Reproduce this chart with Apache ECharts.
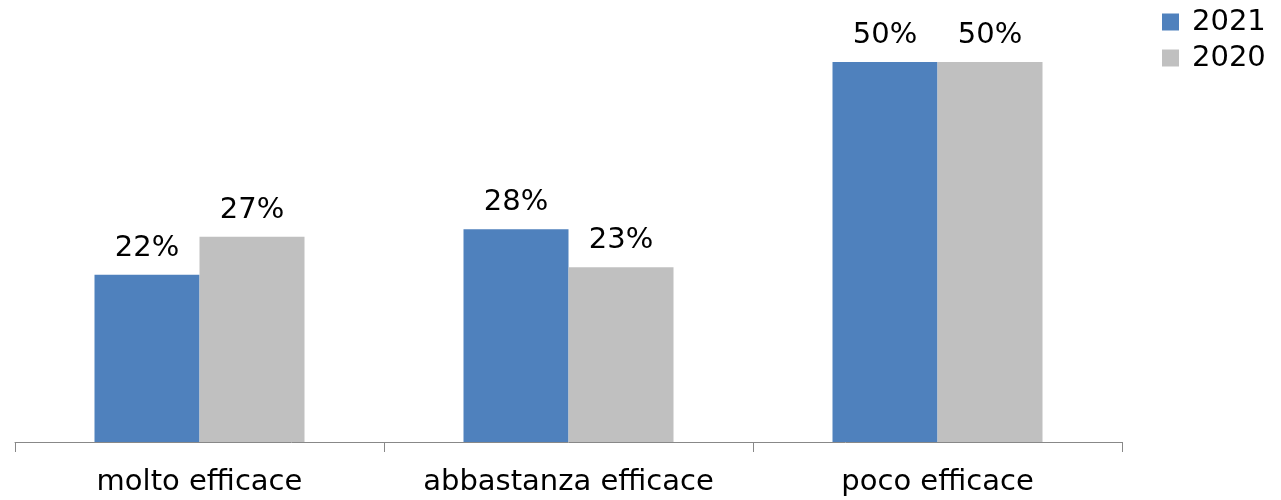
<!DOCTYPE html>
<html><head><meta charset="utf-8">
<script src="https://cdn.jsdelivr.net/npm/echarts@6/dist/echarts.min.js"></script>
<style>html,body{margin:0;padding:0;background:#fff}#c{width:1281px;height:500px}</style>
</head><body><div id="c"></div>
<script>
const categories = ['molto efficace', 'abbastanza efficace', 'poco efficace'];
const values2021 = [22, 28, 50];
const values2020 = [27, 23, 50];
const seriesNames = ['2021', '2020'];

const chart = echarts.init(document.getElementById('c'));
const font = 'DejaVu Sans, Verdana, sans-serif';
const label = {show: true, position: 'top', distance: 12, formatter: '{c}%', color: '#000', fontSize: 29, fontFamily: font};
chart.setOption({
  animation: false,
  textStyle: {fontFamily: font},
  grid: {left: 15, right: 159, top: 62, bottom: 58, containLabel: false},
  legend: {
    orient: 'vertical', left: 1162, top: 7, padding: 0, itemWidth: 17, itemHeight: 17, itemGap: 6,
    icon: 'rect',
    textStyle: {fontSize: 29, lineHeight: 30, color: '#000', fontFamily: font, padding: [0, 0, 0, 8]},
    data: seriesNames
  },
  xAxis: {
    type: 'category', data: categories,
    axisLine: {lineStyle: {color: '#888', width: 1}},
    axisTick: {show: true, interval: 0, length: 10, lineStyle: {color: '#888'}},
    axisLabel: {interval: 0, fontSize: 29, color: '#000', margin: 26, fontFamily: font}
  },
  yAxis: {type: 'value', min: 0, max: 50, show: false, splitLine: {show: false}},
  series: [
    {name: seriesNames[0], type: 'bar', data: values2021, barWidth: 105, barGap: '0%', itemStyle: {color: '#4F81BD'}, label: label},
    {name: seriesNames[1], type: 'bar', data: values2020, barWidth: 105, barGap: '0%', itemStyle: {color: '#C0C0C0'}, label: label}
  ]
});
</script></body></html>
